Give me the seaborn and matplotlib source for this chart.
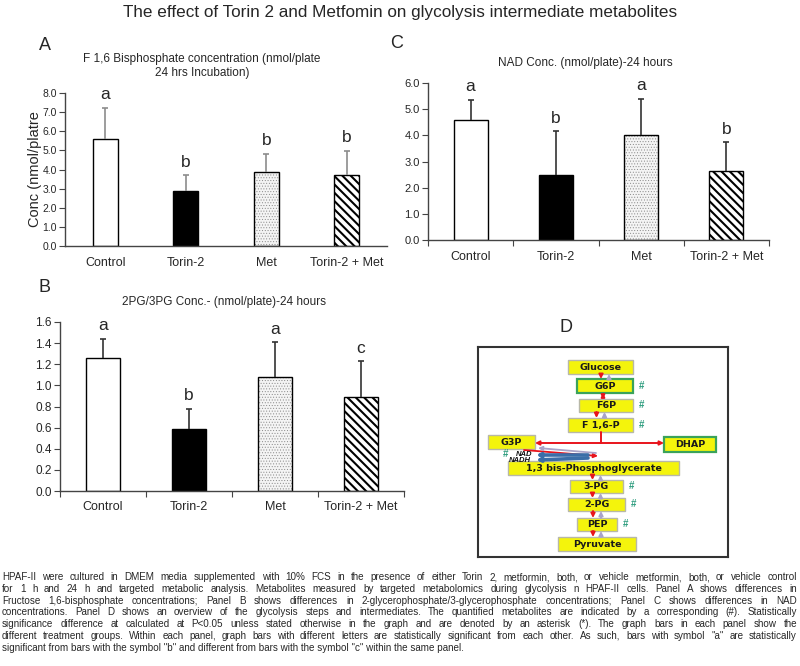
import matplotlib
matplotlib.use("Agg")
import matplotlib.pyplot as plt
import seaborn as sns
import numpy as np
from matplotlib.patches import Rectangle

W, H = 800, 666

groups = ["Control", "Torin-2", "Met", "Torin-2 + Met"]

# Panel A - F 1,6 bisphosphate
f16bp_mean = [5.6, 2.85, 3.86, 3.72]
f16bp_err = [1.62, 0.84, 0.96, 1.27]
f16bp_letters = ["a", "b", "b", "b"]

# Panel B - 2PG/3PG
pg_mean = [1.26, 0.59, 1.08, 0.89]
pg_err = [0.18, 0.19, 0.33, 0.34]
pg_letters = ["a", "b", "a", "c"]

# Panel C - NAD
nad_mean = [4.6, 2.49, 4.01, 2.62]
nad_err = [0.76, 1.66, 1.38, 1.11]
nad_letters = ["a", "b", "a", "b"]

# Panel D - glycolysis scheme
node_labels = ["Glucose", "G6P", "F6P", "F 1,6-P", "G3P", "DHAP",
               "1,3 bis-Phosphoglycerate", "3-PG", "2-PG", "PEP", "Pyruvate"]
measured = ["G6P", "F6P", "F 1,6-P", "3-PG", "2-PG", "PEP"]

title = "The effect of Torin 2 and Metfomin on glycolysis intermediate metabolites"
caption = [
    "HPAF-II were cultured in DMEM media supplemented with 10% FCS in the presence of either Torin 2, metformin, both, or vehicle metformin, both, or vehicle control",
    "for 1 h and 24 h and targeted metabolic analysis. Metabolites measured by targeted metabolomics during glycolysis n HPAF-II cells. Panel A shows differences in",
    "Fructose 1,6-bisphosphate concentrations; Panel B shows differences in 2-glycerophosphate/3-glycerophosphate concentrations; Panel C shows differences in NAD",
    "concentrations. Panel D shows an overview of the glycolysis steps and intermediates. The quantified metabolites are indicated by a corresponding (#). Statistically",
    "significance difference at calculated at P<0.05 unless stated otherwise in the graph and are denoted by an asterisk (*). The graph bars in each panel show the",
    "different treatment groups. Within each panel, graph bars with different letters are statistically significant from each other. As such, bars with symbol \"a\" are statistically",
    "significant from bars with the symbol \"b\" and different from bars with the symbol \"c\" within the same panel.",
]

sns.set_style("white")
plt.rcParams["font.family"] = ["Liberation Sans", "DejaVu Sans"]
plt.rcParams["hatch.linewidth"] = 1.5

fig = plt.figure(figsize=(8, 6.66), dpi=100)


def px_rect(l, t, r, b):
    return [l / W, 1 - b / H, (r - l) / W, (b - t) / H]


def ftext(x, y, s, **kw):
    return fig.text(x / W, 1 - y / H, s, **kw)


def bar_panel(ax, means, errs, letters, ymax, ystep, ytick_fs, bar_w,
              err_color, boundary_ticks, xpad):
    sns.barplot(x=groups, y=means, ax=ax, width=bar_w, color="white",
                saturation=1, edgecolor="black", linewidth=1.0, errorbar=None)
    bars = ax.patches[:4]
    bars[1].set_facecolor("black")

    # stippled bar
    b = bars[2]
    b.set_facecolor("#f4f4f4")
    b.set_edgecolor("#8a8a8a")
    b.set_hatch("......")
    b.set_linewidth(0)
    if hasattr(b, "set_hatch_linewidth"):
        b.set_hatch_linewidth(0.4)
    ax.add_patch(Rectangle(b.get_xy(), b.get_width(), b.get_height(),
                           fill=False, ec="black", lw=1.0, zorder=b.get_zorder() + 0.1))

    # striped bar
    bars[3].set_hatch("\\\\\\\\")

    x = np.arange(len(means))
    tops = np.array(means) + np.array(errs)
    ax.vlines(x, means, tops, color=err_color, lw=1.2, zorder=3)
    ax.plot(x, tops, ls="none", marker="_", ms=5, mew=1.2, color=err_color, zorder=3)
    for xi, top, lab in zip(x, tops, letters):
        ax.annotate(lab, (xi, top), xytext=(0, 4), textcoords="offset points",
                    ha="center", va="bottom", fontsize=12.5)

    ax.set_xlim(-0.5, 3.5)
    ax.set_ylim(0, ymax)
    yt = np.arange(0, ymax + ystep / 2, ystep)
    ax.set_yticks(yt)
    ax.set_yticklabels([f"{v:.1f}" for v in yt])
    ax.set_xlabel("")
    ax.set_ylabel("")
    sns.despine(ax=ax)
    for s in ["left", "bottom"]:
        ax.spines[s].set_color("#444444")
        ax.spines[s].set_linewidth(1.0)
    ax.tick_params(axis="y", direction="out", length=4, width=0.8,
                   color="#444444", labelsize=ytick_fs, pad=2, left=True)
    ax.tick_params(axis="x", which="major", length=0, labelsize=9, pad=xpad)
    if boundary_ticks:
        ax.set_xticks([-0.5, 0.5, 1.5, 2.5, 3.5], minor=True)
        ax.tick_params(axis="x", which="minor", direction="out", length=4,
                       width=0.8, color="#444444", bottom=True)


# Panel A
axA = fig.add_axes(px_rect(65, 93, 387, 246))
bar_panel(axA, f16bp_mean, f16bp_err, f16bp_letters, 8.0, 1.0, 7.5, 0.31,
          "#8c8c8c", False, 8)
axA.set_ylabel("Conc (nmol/platre", fontsize=10.5, labelpad=0)
ftext(45, 45, "A", fontsize=13, ha="center", va="center")
ftext(202, 66, "F 1,6 Bisphosphate concentration (nmol/plate\n24 hrs Incubation)",
      fontsize=8.5, ha="center", va="center", linespacing=1.25)

# Panel C
axC = fig.add_axes(px_rect(428, 83, 769, 240))
bar_panel(axC, nad_mean, nad_err, nad_letters, 6.0, 1.0, 8, 0.4,
          "#333333", True, 8)
ftext(397, 44, "C", fontsize=13, ha="center", va="center")
ftext(585, 63, "NAD Conc. (nmol/plate)-24 hours", fontsize=8.5, ha="center", va="center")

# Panel B
axB = fig.add_axes(px_rect(60, 322, 404, 491))
bar_panel(axB, pg_mean, pg_err, pg_letters, 1.6, 0.2, 8.5, 0.4,
          "#333333", True, 7)
ftext(45, 287, "B", fontsize=13, ha="center", va="center")
ftext(224, 302, "2PG/3PG Conc.- (nmol/plate)-24 hours", fontsize=8.5, ha="center", va="center")

# Panel D - glycolysis scheme drawn in pixel coordinates
ftext(566, 327, "D", fontsize=13, ha="center", va="center")
axD = fig.add_axes(px_rect(478, 347, 728, 557))
axD.set_xlim(478, 728)
axD.set_ylim(557, 347)
axD.set_xticks([])
axD.set_yticks([])
for s in axD.spines.values():
    s.set_visible(True)
    s.set_color("#333333")
    s.set_linewidth(1.5)

node_boxes = {
    "Glucose": (568, 360, 633, 374),
    "G6P": (577, 379, 633, 393),
    "F6P": (579, 399, 633, 412),
    "F 1,6-P": (568, 418, 633, 432),
    "G3P": (488, 435, 535, 449),
    "DHAP": (664, 437, 716, 452),
    "1,3 bis-Phosphoglycerate": (508, 461, 679, 475),
    "3-PG": (570, 480, 623, 493),
    "2-PG": (568, 498, 625, 511),
    "PEP": (577, 518, 617, 531),
    "Pyruvate": (558, 537, 636, 551),
}
green_border = ["G6P", "DHAP"]
for name in node_labels:
    l, t, r, b = node_boxes[name]
    ec = "#3aa35a" if name in green_border else "#b8b8a8"
    axD.add_patch(Rectangle((l, t), r - l, b - t, fc="#f4f40c", ec=ec,
                            lw=1.6 if name in green_border else 1.0, zorder=2))
    axD.text((l + r) / 2, (t + b) / 2 + 0.5, name, ha="center", va="center",
             fontsize=6.8, fontweight="bold", color="#1a1a1a",
             family="DejaVu Sans", zorder=3)
    if name in measured:
        axD.text(r + 9, (t + b) / 2, "#", ha="center", va="center",
                 fontsize=7, color="#2e9d7f", fontweight="bold", zorder=3)


def arrow(p0, p1, color, lw=1.4, style="-|>", ms=6):
    axD.annotate("", xy=p1, xytext=p0,
                 arrowprops=dict(arrowstyle=style, color=color, lw=lw,
                                 mutation_scale=ms, shrinkA=0, shrinkB=0),
                 zorder=4)


chain = [("Glucose", "G6P"), ("F6P", "F 1,6-P"),
         ("1,3 bis-Phosphoglycerate", "3-PG"), ("3-PG", "2-PG"),
         ("2-PG", "PEP"), ("PEP", "Pyruvate")]
for up, dn in chain:
    cx = (node_boxes[dn][0] + node_boxes[dn][2]) / 2
    y0 = node_boxes[up][3]
    y1 = node_boxes[dn][1]
    arrow((cx - 4, y0), (cx - 4, y1), "#e8141c")
    arrow((cx + 4, y1), (cx + 4, y0), "#a9a3c8")

# G6P <-> F6P
cx = (node_boxes["F6P"][0] + node_boxes["F6P"][2]) / 2 - 3
arrow((cx, node_boxes["G6P"][3]), (cx, node_boxes["F6P"][1]), "#e8141c",
      style="<|-|>", ms=5)

# aldolase split
fx = (node_boxes["F 1,6-P"][0] + node_boxes["F 1,6-P"][2]) / 2
split_y = (node_boxes["G3P"][1] + node_boxes["G3P"][3]) / 2 + 1
axD.plot([fx, fx], [node_boxes["F 1,6-P"][3], split_y], color="#e8141c", lw=1.4, zorder=4)
arrow((fx, split_y), (node_boxes["G3P"][2], split_y), "#e8141c")
arrow((fx, split_y), (node_boxes["DHAP"][0], split_y), "#e8141c")

# G3P -> 1,3 bPG with NAD/NADH
arrow((524, 450), (598, 456), "#e8141c", lw=1.3)
arrow((596, 453), (538, 448), "#a9a3c8", lw=1.3)
arrow((588, 455), (536, 455), "#3a6ea8", lw=2.6, ms=5)
arrow((588, 458), (536, 460), "#3a6ea8", lw=2.6, ms=5)
axD.text(524, 454.5, "NAD", ha="center", va="center", fontsize=5.5,
         fontweight="bold", style="italic", color="#111111", zorder=5)
axD.text(520, 460.5, "NADH", ha="center", va="center", fontsize=5.5,
         fontweight="bold", style="italic", color="#111111", zorder=5)
axD.text(506, 454.5, "#", ha="center", va="center", fontsize=7,
         color="#2e9d7f", fontweight="bold", zorder=5)

# Figure title
ftext(400, 12, title, ha="center", va="center", fontsize=12.3)

# Justified caption
renderer = fig.canvas.get_renderer()
x_left, x_right = 2, 797
y0, dy = 577, 11.8
cap_fs = 7.1
for i, line in enumerate(caption):
    y = y0 + i * dy
    if i == len(caption) - 1:
        ftext(x_left, y, line, fontsize=cap_fs, ha="left", va="center")
        continue
    words = line.split(" ")
    texts = [ftext(x_left, y, w, fontsize=cap_fs, ha="left", va="center")
             for w in words]
    widths = [t.get_window_extent(renderer).width for t in texts]
    gap = (x_right - x_left - sum(widths)) / (len(words) - 1)
    xpos = x_left
    for t, w in zip(texts, widths):
        t.set_x(xpos / W)
        xpos += w + gap

fig.savefig("out.png", dpi=100)
